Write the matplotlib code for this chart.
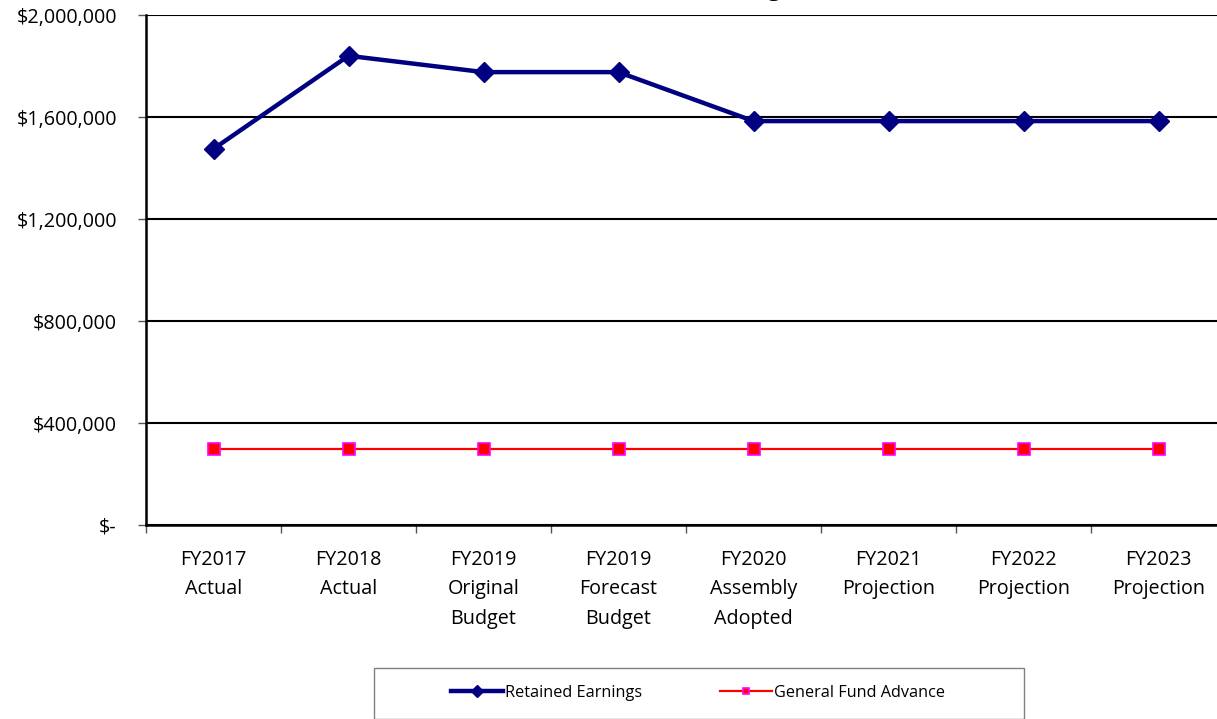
import matplotlib
matplotlib.use("Agg")
import matplotlib.pyplot as plt
from matplotlib.patches import Rectangle
from matplotlib.ticker import FixedLocator, FuncFormatter

plt.rcParams['font.family'] = ['Open Sans', 'DejaVu Sans']

# Fund balance history and projections
years = ["FY2017\nActual", "FY2018\nActual", "FY2019\nOriginal\nBudget",
         "FY2019\nForecast\nBudget", "FY2020\nAssembly\nAdopted",
         "FY2021\nProjection", "FY2022\nProjection", "FY2023\nProjection"]
retained = [1475000, 1840000, 1776000, 1776000, 1584000, 1584000, 1584000, 1584000]
advance = [298000, 298000, 298000, 298000, 298000, 298000, 298000, 298000]

fig = plt.figure(figsize=(12.17, 7.19), dpi=100)
W, H = 1217, 719
ax = fig.add_axes([146 / W, (H - 525) / H, 1080 / W, 510 / H])

x = list(range(len(years)))
ax.plot(x, retained, color="#000080", lw=3.2, marker="D", ms=10,
        label="Retained Earnings", zorder=4)
ax.plot(x, advance, color="#ff0000", lw=1.6, marker="s", ms=8,
        markerfacecolor="#ff0000", markeredgecolor="#ff00ff", mew=1.2,
        label="General Fund Advance", zorder=4)

ax.set_xlim(-0.5, len(years) - 0.5)
ax.set_ylim(0, 2000000)
ax.set_yticks(range(0, 2000001, 400000))
ax.yaxis.set_major_formatter(FuncFormatter(
    lambda v, p: "$-" if v == 0 else "${:,.0f}".format(v)))
ax.grid(axis="y", color="black", lw=1.5)
ax.set_axisbelow(True)

ax.set_xticks(x)
ax.set_xticklabels(years, linespacing=1.62)
ax.xaxis.set_minor_locator(FixedLocator([i + 0.5 for i in range(-1, len(years))]))
ax.tick_params(axis="x", which="major", length=0, pad=18, labelsize=14.2)
ax.tick_params(axis="x", which="minor", length=6, width=1, color="#555555")
ax.tick_params(axis="y", length=6, width=1, color="#555555", labelsize=14.2, pad=15)

for side in ["top", "right"]:
    ax.spines[side].set_visible(False)
ax.spines["left"].set_linewidth(1.8)
ax.spines["bottom"].set_linewidth(1.8)

# title sits mostly above the top edge
ax.set_title("Retained Earnings", fontsize=17, fontweight="bold",
             y=1.0 + 12 / 510)

# legend box
fig.patches.append(Rectangle((374 / W, 0), 650 / W, 51 / H, transform=fig.transFigure,
                             facecolor="white", edgecolor="#808080", lw=1))
fig.legend(loc="center", bbox_to_anchor=(698 / W, 26 / H), ncol=2, frameon=False,
           fontsize=11.7, handlelength=3.2, handletextpad=0.15, columnspacing=4.8,
           markerscale=0.6)

fig.savefig("out.png", dpi=100)
